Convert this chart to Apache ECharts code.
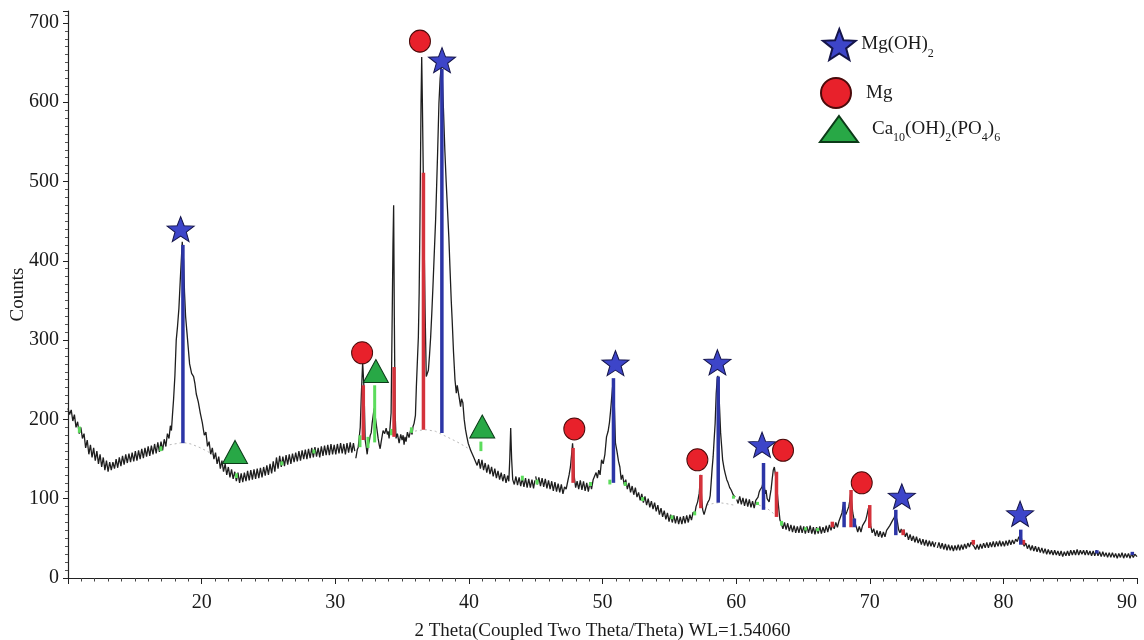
<!DOCTYPE html>
<html>
<head>
<meta charset="utf-8">
<script src="https://cdn.jsdelivr.net/npm/echarts@6/dist/echarts.min.js"></script>
<style>
html,body{margin:0;padding:0;background:#fff;}
#chart{width:1144px;height:640px;}
</style>
</head>
<body>
<div id="chart"></div>
<script>
// ---------------- DATA ----------------
const xTicks = [20, 30, 40, 50, 60, 70, 80, 90];
const yTicks = [0, 100, 200, 300, 400, 500, 600, 700];
const phaseNames = ['Mg(OH)2', 'Mg', 'Ca10(OH)2(PO4)6'];

// measured pattern [2theta, counts]
const scanA = [[10.0,214],[10.12,206],[10.24,212],[10.36,198],[10.48,206],[10.6,190],[10.72,197],[10.84,182],[10.96,190],[11.08,176],[11.2,182],[11.32,164],[11.44,174],[11.56,156],[11.68,168],[11.8,152],[11.92,164],[12.04,148],[12.16,160],[12.28,144],[12.4,156],[12.52,140],[12.64,152],[12.76,136],[12.88,148],[13.0,134],[13.12,146],[13.24,136],[13.36,146],[13.48,138],[13.6,150],[13.72,139],[13.84,152],[13.96,141],[14.08,154],[14.2,143],[14.32,156],[14.44,145],[14.56,157],[14.68,146],[14.8,158],[14.92,147],[15.04,160],[15.16,148],[15.28,161],[15.4,150],[15.52,163],[15.64,151],[15.76,164],[15.88,153],[16.0,166],[16.12,154],[16.24,167],[16.36,156],[16.48,169],[16.6,157],[16.72,171],[16.84,159],[16.96,172],[17.08,161],[17.2,175],[17.32,166],[17.44,182],[17.56,176],[17.66,192],[17.74,186],[17.82,206],[17.9,225],[18.0,255],[18.1,300],[18.2,318],[18.3,340],[18.4,375],[18.55,424],[18.65,400],[18.72,360],[18.8,330],[18.9,310],[19.0,290],[19.1,270],[19.25,258],[19.4,254],[19.5,245],[19.6,232],[19.75,222],[19.9,208],[20.05,196],[20.2,180],[20.32,184],[20.44,166],[20.56,172],[20.68,156],[20.8,164],[20.92,150],[21.04,158],[21.16,144],[21.28,153],[21.4,138],[21.52,148],[21.64,134],[21.76,144],[21.88,130],[22.0,140],[22.12,127],[22.24,137],[22.36,125],[22.48,134],[22.6,122],[22.72,133],[22.84,120],[22.96,132],[23.08,121],[23.2,133],[23.32,122],[23.44,135],[23.56,123],[23.68,136],[23.8,124],[23.92,137],[24.04,125],[24.16,138],[24.28,126],[24.4,139],[24.52,127],[24.64,140],[24.76,129],[24.88,142],[25.0,130],[25.12,144],[25.24,132],[25.36,147],[25.48,134],[25.6,152],[25.72,138],[25.84,154],[25.96,140],[26.08,153],[26.2,141],[26.32,155],[26.44,143],[26.56,156],[26.68,144],[26.8,157],[26.92,146],[27.04,158],[27.16,147],[27.28,160],[27.4,148],[27.52,161],[27.64,150],[27.76,162],[27.88,150],[28.0,163],[28.12,151],[28.24,164],[28.36,152],[28.48,165],[28.6,153],[28.72,164],[28.84,152],[28.96,166],[29.08,154],[29.2,167],[29.32,155],[29.44,168],[29.56,155],[29.68,169],[29.8,156],[29.92,168],[30.04,156],[30.16,169],[30.28,157],[30.4,170],[30.52,157],[30.64,169],[30.76,156],[30.88,170],[31.0,158],[31.12,171],[31.24,158],[31.36,170],[31.46,160]];
const scanB = [[31.54,151],[31.65,162],[31.72,165],[31.8,178],[31.87,190],[31.95,230],[32.05,272],[32.15,240],[32.24,174],[32.32,165],[32.39,156],[32.47,168],[32.54,172],[32.62,180],[32.69,183],[32.76,195],[32.84,205],[32.91,214],[32.99,216],[33.06,195],[33.14,185],[33.21,176],[33.29,168],[33.36,163],[33.44,172],[33.51,174],[33.58,186],[33.7,182],[33.81,189],[33.9,181],[33.96,185],[34.03,176],[34.1,190],[34.18,208],[34.25,313],[34.32,420],[34.37,470],[34.42,330],[34.48,208],[34.55,176],[34.65,182],[34.78,170],[34.9,181],[35.0,174],[35.08,180],[35.15,168],[35.22,178],[35.3,172],[35.4,184],[35.52,177],[35.65,187],[35.75,181],[35.82,191],[35.9,195],[36.0,205],[36.07,241],[36.15,275],[36.22,304],[36.28,360],[36.34,451],[36.42,599],[36.47,657],[36.52,600],[36.58,520],[36.64,440],[36.72,340],[36.81,254],[36.89,256],[36.97,262],[37.05,280],[37.14,304],[37.22,332],[37.31,367],[37.4,405],[37.51,451],[37.58,490],[37.66,536],[37.76,599],[37.85,630],[37.92,643],[38.0,636],[38.1,590],[38.2,540],[38.3,500],[38.4,465],[38.5,430],[38.6,385],[38.68,350],[38.75,325],[38.85,285],[38.96,250],[39.06,233],[39.13,243],[39.2,241],[39.3,225],[39.38,216],[39.45,226],[39.55,221],[39.65,200],[39.75,187],[39.85,178],[39.95,170],[40.05,165],[40.13,161],[40.25,162],[40.37,152],[40.5,152],[40.62,142],[40.74,150],[40.86,138],[40.98,149],[41.1,136],[41.22,145],[41.34,133],[41.46,143],[41.58,131],[41.7,140],[41.82,128],[41.94,138],[42.06,126],[42.18,135],[42.3,124],[42.42,133],[42.54,122],[42.66,131],[42.78,120],[42.9,129],[42.99,122],[43.06,150],[43.13,189],[43.2,150],[43.28,124],[43.4,118],[43.52,128],[43.64,117],[43.76,127],[43.88,116],[44.0,126],[44.12,115],[44.24,126],[44.36,114],[44.48,125],[44.6,114],[44.72,124],[44.84,113],[44.94,123]];
const scanC = [[45.0,128],[45.12,118],[45.24,127],[45.36,116],[45.48,126],[45.6,115],[45.72,125],[45.84,113],[45.96,123],[46.08,112],[46.2,122],[46.32,110],[46.44,121],[46.56,109],[46.68,119],[46.8,108],[46.92,118],[47.04,106],[47.16,115],[47.28,112],[47.4,122],[47.5,130],[47.6,140],[47.7,158],[47.76,170],[47.83,150],[47.9,126],[47.99,114],[48.1,122],[48.22,112],[48.34,123],[48.46,111],[48.58,122],[48.7,110],[48.82,120],[48.94,109],[49.06,121],[49.18,112],[49.3,124],[49.42,122],[49.52,133],[49.62,126],[49.72,136],[49.82,130],[49.93,149],[50.05,144],[50.18,156],[50.3,178],[50.42,185],[50.52,196],[50.6,210],[50.67,224],[50.75,240],[50.82,250],[50.9,210],[50.97,170],[51.08,160],[51.2,147],[51.3,140],[51.4,124],[51.5,130],[51.62,118],[51.74,124],[51.86,112],[51.98,120],[52.1,108],[52.22,116],[52.34,105],[52.46,114],[52.58,102],[52.7,108],[52.82,98],[52.94,106],[53.06,95],[53.18,103],[53.3,92],[53.42,100],[53.54,89],[53.66,97],[53.78,87],[53.9,95],[54.02,84],[54.14,92],[54.26,80],[54.38,88],[54.5,77],[54.62,85],[54.74,74],[54.86,82],[54.98,71],[55.1,80],[55.22,70],[55.34,79],[55.46,69],[55.58,78],[55.7,68],[55.82,77],[55.94,68],[56.06,78],[56.18,69],[56.3,79],[56.42,70],[56.54,80],[56.66,73],[56.78,83],[56.9,80],[57.0,90],[57.12,96],[57.24,107],[57.34,130],[57.42,100],[57.5,86],[57.6,80],[57.7,86],[57.8,92],[57.9,96],[58.0,99],[58.06,104],[58.13,120],[58.2,137],[58.28,153],[58.36,176],[58.43,195],[58.51,233],[58.58,250],[58.63,255],[58.7,238],[58.76,215],[58.84,183],[58.92,165],[58.99,149],[59.1,138],[59.18,132],[59.3,124],[59.4,120],[59.52,114],[59.63,111],[59.78,105],[59.93,102]];
const scanD = [[60.05,99],[60.15,94],[60.27,103],[60.39,93],[60.51,101],[60.63,91],[60.75,100],[60.87,90],[60.99,99],[61.11,89],[61.23,97],[61.35,88],[61.47,98],[61.57,100],[61.64,102],[61.72,108],[61.79,111],[61.87,113],[61.94,115],[62.02,121],[62.09,118],[62.17,106],[62.24,111],[62.32,100],[62.39,102],[62.47,96],[62.54,104],[62.62,112],[62.7,125],[62.78,136],[62.86,140],[62.92,142],[62.99,124],[63.06,112],[63.13,98],[63.2,86],[63.28,73],[63.4,68],[63.5,62],[63.62,70],[63.74,61],[63.86,69],[63.98,59],[64.1,67],[64.22,58],[64.34,66],[64.46,57],[64.58,65],[64.7,57],[64.82,66],[64.94,57],[65.06,65],[65.18,56],[65.3,65],[65.42,57],[65.54,66],[65.66,56],[65.78,64],[65.9,55],[66.02,64],[66.14,56],[66.26,65],[66.38,56],[66.5,64],[66.62,57],[66.74,66],[66.86,58],[66.98,67],[67.1,60],[67.22,68],[67.34,62],[67.46,70],[67.58,64],[67.7,72],[67.82,70],[67.92,82],[68.0,90],[68.06,95],[68.13,88],[68.21,80],[68.3,84],[68.43,90],[68.5,97],[68.58,108],[68.65,95],[68.73,82],[68.8,76],[68.88,70],[69.0,64],[69.1,58],[69.22,65],[69.34,58],[69.46,66],[69.58,64],[69.7,73],[69.8,80],[69.9,88],[69.97,84],[70.07,66],[70.18,57],[70.3,62],[70.42,53],[70.54,60],[70.66,52],[70.78,59],[70.9,51],[71.02,58],[71.14,52],[71.26,60],[71.38,58],[71.5,66],[71.62,68],[71.72,73],[71.82,76],[71.92,80],[71.98,78],[72.06,72],[72.16,61],[72.26,57],[72.36,62],[72.46,56],[72.56,61],[72.66,52],[72.78,57],[72.9,48],[73.02,55],[73.14,47],[73.26,53],[73.38,45],[73.5,52],[73.62,44],[73.74,50],[73.86,42],[73.98,49],[74.1,41],[74.22,48],[74.34,40],[74.46,47],[74.58,40],[74.7,46],[74.82,39],[74.94,45]];
const scanE = [[75.06,38],[75.18,45],[75.3,37],[75.42,44],[75.54,36],[75.66,43],[75.78,35],[75.9,42],[76.02,35],[76.14,41],[76.26,34],[76.38,41],[76.5,35],[76.62,42],[76.74,35],[76.86,42],[76.98,36],[77.1,43],[77.22,37],[77.34,44],[77.46,39],[77.58,45],[77.69,47],[77.8,40],[77.92,36],[78.04,42],[78.16,36],[78.28,43],[78.4,37],[78.52,44],[78.64,38],[78.76,45],[78.88,38],[79.0,45],[79.12,39],[79.24,46],[79.36,39],[79.48,46],[79.6,40],[79.72,47],[79.84,40],[79.96,46],[80.08,40],[80.2,47],[80.32,41],[80.44,48],[80.56,42],[80.68,48],[80.8,43],[80.92,49],[81.04,46],[81.14,51],[81.22,50],[81.3,54],[81.38,48],[81.46,46],[81.56,40],[81.68,44],[81.8,37],[81.92,42],[82.04,35],[82.16,41],[82.28,34],[82.4,40],[82.52,33],[82.64,39],[82.76,32],[82.88,38],[83.0,31],[83.12,37],[83.24,30],[83.36,36],[83.48,30],[83.6,35],[83.72,29],[83.84,35],[83.96,29],[84.08,34],[84.2,28],[84.32,34],[84.44,27],[84.56,33],[84.68,28],[84.8,34],[84.92,28],[85.04,35],[85.16,29],[85.28,35],[85.4,29],[85.52,36],[85.64,29],[85.76,35],[85.88,30],[86.0,35],[86.12,29],[86.24,35],[86.36,29],[86.48,34],[86.6,28],[86.72,34],[86.84,28],[86.96,35],[87.08,28],[87.2,33],[87.32,27],[87.44,33],[87.56,27],[87.68,32],[87.8,26],[87.92,32],[88.04,26],[88.16,32],[88.28,26],[88.4,31],[88.52,25],[88.64,31],[88.76,26],[88.88,32],[89.0,25],[89.12,31],[89.24,26],[89.36,31],[89.48,25],[89.6,31],[89.72,26],[89.84,30],[90.0,27]];

// amorphous background (dotted) under the strongest peaks
const bgHump1 = [[16.9,164],[17.6,168],[18.3,170],[18.6,171],[19.2,169],[19.8,165],[20.4,160],[20.9,155]];
const bgHump2 = [[35.6,184],[36.2,186],[36.8,187],[37.5,185],[38.1,180],[38.6,176],[39.3,170],[39.9,164],[40.4,158]];
const bgHump3 = [[57.8,92],[58.3,94],[58.7,95],[59.2,94],[59.8,92]];
const bgHump4 = [[61.7,92],[62.3,88],[62.9,80],[63.3,74]];

// reference sticks [2theta, from counts, to counts]
const mgoh2Sticks = [[18.6,170,420],[37.98,183,642],[50.82,120,252],[58.66,95,254],[62.05,86,145],[68.08,64,96],[68.85,64,75],[71.95,54,86],[81.3,42,61],[87.0,31,35],[89.65,29,33]];
const mgSticks = [[32.1,174,243],[34.4,178,266],[36.6,187,511],[47.8,120,164],[57.36,88,130],[63.02,77,134],[67.2,64,71],[68.6,64,111],[70.0,63,92],[72.5,54,61],[77.75,42,48],[81.5,42,48]];
const caSticks = [[10.85,183,191],[16.95,160,166],[22.6,126,132],[26.0,142,147],[28.4,157,162],[31.85,165,180],[32.45,164,178],[32.95,171,243],[34.2,180,188],[35.7,183,190],[40.9,160,172],[44.0,123,129],[45.1,118,124],[49.1,116,121],[50.55,118,124],[51.7,116,121],[53.0,97,102],[55.2,74,79],[56.9,79,84],[59.8,100,104],[61.6,92,96],[63.4,66,72],[65.2,60,64],[66.1,59,63]];

// phase markers [2theta, counts]
const mgoh2Marks = [[18.43,440],[37.99,653],[50.97,271],[58.6,272],[61.94,168],[72.4,103],[81.25,81]];
const mgMarks = [[32.01,284],[36.34,677],[47.89,188],[57.1,149],[63.51,161],[69.4,120]];
const caMarks = [[22.5,159],[33.04,261],[41.0,191]];

// ---------------- CHART ----------------
const FONT = 'Liberation Serif';
const STAR = 'path://M50,0L62.35,33L97.55,34.55L69.95,56.5L79.4,90.45L50,71L20.6,90.45L30.05,56.5L2.45,34.55L37.65,33Z';
const COL = {
  blueFill: '#3d45c9', blueBar: '#2c35a6',
  redFill: '#e8212b', redBar: '#d4323b',
  greenFill: '#28a846', greenBar: '#5cdc5c'
};

function stickSeries(name, data, color, width) {
  return {
    type: 'custom', name: name + ' sticks', data: data, z: 3, silent: true,
    encode: { x: 0, y: [1, 2] },
    renderItem: function (params, api) {
      const x = api.value(0);
      const p1 = api.coord([x, api.value(1)]);
      const p2 = api.coord([x, api.value(2)]);
      return { type: 'rect', shape: { x: p1[0] - width / 2, y: p2[1], width: width, height: p1[1] - p2[1] },
               style: { fill: color } };
    }
  };
}
function bgSeries(data) {
  return { type: 'line', data: data, showSymbol: false, silent: true, z: 1,
           lineStyle: { color: '#b8b8b8', width: 1, type: [2, 3] } };
}
function scanSeries(data) {
  return { type: 'line', data: data, showSymbol: false, silent: true, z: 2,
           lineStyle: { color: '#1e1e1e', width: 1.3 } };
}

const rich = {
  a: { fontFamily: FONT, fontSize: 19, color: '#1a1a1a', lineHeight: 30 },
  b: { fontFamily: FONT, fontSize: 12, color: '#1a1a1a', lineHeight: 12, verticalAlign: 'bottom' },
  p: { fontFamily: FONT, fontSize: 19, lineHeight: 30, width: 10 },
  q: { fontFamily: FONT, fontSize: 19, lineHeight: 30, width: 9 }
};
const legendText = {
  'Mg(OH)2': '{a|Mg(OH)}{b|2}',
  'Mg': '{p|}{a|Mg}',
  'Ca10(OH)2(PO4)6': '{q|}{a|Ca}{b|10}{a|(OH)}{b|2}{a|(PO}{b|4}{a|)}{b|6}'
};
function legendFor(name, left, top, w, h) {
  return { data: [name], left: left, top: top, orient: 'vertical', itemWidth: w, itemHeight: h,
           padding: 0, itemGap: 0, selectedMode: false,
           formatter: function (n) { return legendText[n]; },
           textStyle: { rich: rich } };
}

const option = {
  animation: false,
  backgroundColor: '#ffffff',
  grid: { left: 68, right: 7, top: 11, bottom: 62, containLabel: false, outerBoundsMode: 'none' },
  legend: [
    legendFor(phaseNames[0], 822, 28, 34, 31),
    legendFor(phaseNames[1], 820, 77, 30, 30),
    legendFor(phaseNames[2], 819, 115, 38, 26)
  ],
  xAxis: {
    type: 'value', min: 10, max: 90, interval: 10,
    name: '2 Theta(Coupled Two Theta/Theta) WL=1.54060',
    nameLocation: 'middle', nameGap: 44,
    nameTextStyle: { fontFamily: FONT, fontSize: 19, color: '#1a1a1a' },
    axisLine: { show: true, onZero: false, lineStyle: { color: '#222', width: 1.2 } },
    axisTick: { show: true, inside: false, length: 6, lineStyle: { color: '#222' } },
    minorTick: { show: true, splitNumber: 10, length: 3.5, lineStyle: { color: '#444' } },
    splitLine: { show: false },
    axisLabel: { margin: 15, fontFamily: FONT, fontSize: 20, color: '#1a1a1a', alignMaxLabel: 'right',
      formatter: function (v) { return xTicks.indexOf(v) >= 0 ? String(v) : ''; } }
  },
  yAxis: {
    type: 'value', min: 0, max: 715, interval: 100,
    name: 'Counts', nameLocation: 'middle', nameGap: 40, nameRotate: 90, nameMoveOverlap: false,
    nameTextStyle: { fontFamily: FONT, fontSize: 19, color: '#1a1a1a' },
    axisLine: { show: true, lineStyle: { color: '#222', width: 1.2 } },
    axisTick: { show: true, inside: false, length: 5, lineStyle: { color: '#222' } },
    minorTick: { show: true, splitNumber: 10, length: 3, lineStyle: { color: '#555' } },
    splitLine: { show: false },
    axisLabel: { margin: 9, fontFamily: FONT, fontSize: 20, color: '#1a1a1a',
      formatter: function (v) { return yTicks.indexOf(v) >= 0 ? String(v) : ''; } }
  },
  series: [
    bgSeries(bgHump1), bgSeries(bgHump2), bgSeries(bgHump3), bgSeries(bgHump4),
    scanSeries(scanA), scanSeries(scanB), scanSeries(scanC), scanSeries(scanD), scanSeries(scanE),
    stickSeries('Ca', caSticks, COL.greenBar, 3),
    stickSeries('Mg', mgSticks, COL.redBar, 3.5),
    stickSeries('MgOH2', mgoh2Sticks, COL.blueBar, 3.5),
    { type: 'scatter', name: phaseNames[0], data: mgoh2Marks, symbol: STAR, symbolSize: [27, 25], z: 5,
      itemStyle: { color: COL.blueFill, borderColor: '#15154a', borderWidth: 1, opacity: 1 } },
    { type: 'scatter', name: phaseNames[1], data: mgMarks, symbol: 'circle', symbolSize: [21, 22], z: 5,
      itemStyle: { color: COL.redFill, borderColor: '#4a0a0a', borderWidth: 1, opacity: 1 } },
    { type: 'scatter', name: phaseNames[2], data: caMarks, symbol: 'triangle', symbolSize: [25, 23], z: 5,
      itemStyle: { color: COL.greenFill, borderColor: '#0c3a18', borderWidth: 1, opacity: 1 } }
  ]
};
const chart = echarts.init(document.getElementById('chart'), null, { renderer: 'canvas' });
chart.setOption(option);
</script>
</body>
</html>
